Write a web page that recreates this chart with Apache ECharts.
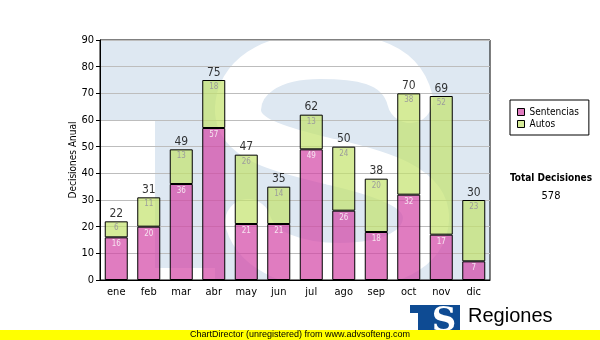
<!DOCTYPE html>
<html>
<head>
<meta charset="utf-8">
<script src="https://cdn.jsdelivr.net/npm/echarts@6/dist/echarts.min.js"></script>
<style>
  html, body { margin: 0; padding: 0; background: #fff; }
  #chart { width: 600px; height: 340px; }
</style>
</head>
<body>
<div id="chart"></div>
<script>
// Monthly decisions, split into sentences and rulings
const months = ['ene', 'feb', 'mar', 'abr', 'may', 'jun', 'jul', 'ago', 'sep', 'oct', 'nov', 'dic'];
const sentencias = [16, 20, 36, 57, 21, 21, 49, 26, 18, 32, 17, 7];
const autos = [6, 11, 13, 18, 26, 14, 13, 24, 20, 38, 52, 23];
const seriesNames = ['Sentencias', 'Autos'];
const axisTitle = 'Decisiones Anual';
const totalTitle = 'Total Decisiones';
const yMin = 0, yMax = 90, yStep = 10;

const totals = months.map((_, i) => sentencias[i] + autos[i]);
const grandTotal = totals.reduce((a, b) => a + b, 0);

const FONT = '"DejaVu Sans Condensed", "DejaVu Sans", sans-serif';
const WM_BLUE = '#dee8f2';
const LOGO_BLUE = '#0e4b93';

const chart = echarts.init(document.getElementById('chart'), null, { renderer: 'canvas' });

// Plot rectangle (pixels) used for the background emblem
const P = { l: 100, t: 40, r: 490, b: 280 };

// Stroke of the large "S" in the background emblem, as cubic segments
const sCurve = [
  [410, 100, 400, 58, 352, 56, 320, 56],
  [320, 56, 270, 56, 238, 78, 238, 110],
  [238, 110, 238, 142, 290, 152, 332, 162],
  [332, 162, 384, 174, 426, 188, 426, 218],
  [426, 218, 426, 250, 388, 266, 340, 266],
  [340, 266, 298, 266, 258, 254, 248, 222]
];
const sStroke = sCurve.map(c => ({
  type: 'bezierCurve', z: -9, silent: true,
  shape: { x1: c[0], y1: c[1], cpx1: c[2], cpy1: c[3], cpx2: c[4], cpy2: c[5], x2: c[6], y2: c[7] },
  style: { fill: null, stroke: '#fff', lineWidth: 46, lineCap: 'round' }
}));

chart.setOption({
  animation: false,
  backgroundColor: '#ffffff',
  textStyle: { fontFamily: FONT },
  grid: {
    left: P.l, top: P.t, right: 600 - P.r, bottom: 340 - P.b,
    show: true, borderColor: '#000', borderWidth: 1, backgroundColor: 'transparent'
  },
  legend: {
    data: seriesNames,
    orient: 'vertical',
    left: 510, top: 100,
    padding: [7, 10, 6, 7],
    itemWidth: 7, itemHeight: 7, itemGap: 2, itemTextGap: 3,
    icon: 'rect',
    borderColor: '#000', borderWidth: 1, borderRadius: 0,
    backgroundColor: '#fff',
    itemStyle: { borderColor: '#000', borderWidth: 1 },
    textStyle: { fontFamily: FONT, fontSize: 10, color: '#000' }
  },
  xAxis: {
    type: 'category',
    data: months,
    axisLine: { lineStyle: { color: '#000', width: 1 } },
    axisTick: { alignWithLabel: true, length: 4, lineStyle: { color: '#000' } },
    axisLabel: { color: '#000', fontSize: 11, fontFamily: FONT, margin: 7 },
    splitLine: { show: false }
  },
  yAxis: {
    type: 'value',
    min: yMin, max: yMax, interval: yStep,
    axisLine: { show: true, lineStyle: { color: '#000', width: 1 } },
    axisTick: { show: true, length: 4, lineStyle: { color: '#000' } },
    axisLabel: { color: '#000', fontSize: 11, fontFamily: FONT, margin: 6 },
    splitLine: { lineStyle: { color: '#bdbdbd', width: 1 } }
  },
  series: [
    {
      name: seriesNames[0],
      type: 'bar',
      stack: 'total',
      barWidth: 23,
      data: sentencias,
      itemStyle: { color: 'rgba(211,68,165,0.70)', borderColor: '#000', borderWidth: 1 },
      label: {
        show: true, position: 'insideTop', distance: 3,
        color: '#f6e4f0', fontSize: 8, fontFamily: FONT
      },
      z: 3
    },
    {
      name: seriesNames[1],
      type: 'bar',
      stack: 'total',
      barWidth: 23,
      data: autos,
      itemStyle: { color: 'rgba(195,226,108,0.70)', borderColor: '#000', borderWidth: 1 },
      label: {
        show: true, position: 'insideTop', distance: 3,
        color: '#9c9c9c', fontSize: 8, fontFamily: FONT
      },
      z: 3
    },
    {
      name: 'totales',
      type: 'scatter',
      data: totals,
      symbolSize: 1,
      itemStyle: { color: 'rgba(0,0,0,0)' },
      label: {
        show: true, position: 'top', distance: 1,
        color: '#000', fontSize: 12, fontFamily: FONT
      },
      z: 4,
      silent: true
    }
  ],
  graphic: [
    // Background emblem inside the plot area
    { type: 'rect', z: -10, silent: true,
      shape: { x: P.l, y: P.t, width: P.r - P.l, height: P.b - P.t },
      style: { fill: WM_BLUE } },
    { type: 'rect', z: -9, silent: true,
      shape: { x: P.l, y: 120, width: 55, height: P.b - 120 },
      style: { fill: '#fff' } },
    { type: 'rect', z: -9, silent: true,
      shape: { x: 155, y: 268, width: 60, height: P.b - 268 },
      style: { fill: '#fff' } }
  ].concat(sStroke, [
    // Vertical axis title
    { type: 'text', z: 5, silent: true, x: 73, y: 160, rotation: Math.PI / 2,
      style: { x: 0, y: 0, text: axisTitle, textAlign: 'center', textVerticalAlign: 'middle',
               font: '10px ' + FONT, fill: '#000' } },

    // Grand total block on the right
    { type: 'text', z: 5, silent: true,
      style: { x: 551, y: 178, text: totalTitle, textAlign: 'center', textVerticalAlign: 'middle',
               font: 'bold 10px ' + FONT, fill: '#000' } },
    { type: 'text', z: 5, silent: true,
      style: { x: 551, y: 196, text: String(grandTotal), textAlign: 'center', textVerticalAlign: 'middle',
               font: '11px ' + FONT, fill: '#000' } },

    // Footer emblem
    { type: 'rect', z: 5, silent: true,
      shape: { x: 410, y: 305, width: 50, height: 30 },
      style: { fill: LOGO_BLUE } },
    { type: 'rect', z: 6, silent: true,
      shape: { x: 410, y: 313, width: 8, height: 22 },
      style: { fill: '#fff' } },
    { type: 'text', z: 6, silent: true,
      style: { x: 444, y: 322, text: 'S', textAlign: 'center', textVerticalAlign: 'middle',
               font: 'bold 34px "DejaVu Serif", serif', fill: '#fff' } },
    { type: 'text', z: 5, silent: true,
      style: { x: 468, y: 316, text: 'Regiones', textAlign: 'left', textVerticalAlign: 'middle',
               font: '20px "Liberation Sans", Arial, sans-serif', fill: '#000' } },

    // Footer strip
    { type: 'rect', z: 7, silent: true,
      shape: { x: 0, y: 330, width: 600, height: 10 },
      style: { fill: '#ffff00' } },
    { type: 'text', z: 8, silent: true,
      style: { x: 190, y: 335, text: 'ChartDirector (unregistered) from www.advsofteng.com',
               textAlign: 'left', textVerticalAlign: 'middle',
               font: '9px "Liberation Sans", Arial, sans-serif', fill: '#000' } }
  ])
});
</script>
</body>
</html>
